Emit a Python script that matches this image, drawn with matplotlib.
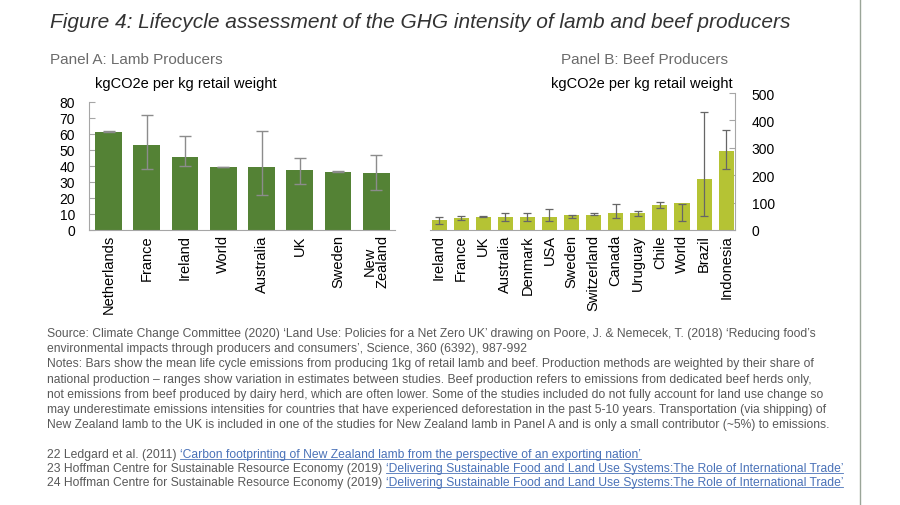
import matplotlib
matplotlib.use("Agg")
import matplotlib.pyplot as plt
from matplotlib.lines import Line2D
import numpy as np

# ---- data ----
lamb_countries = ["Netherlands", "France", "Ireland", "World", "Australia", "UK", "Sweden", "New\nZealand"]
lamb_mean = [61.5, 53, 45.5, 39.5, 39.5, 37.5, 36.5, 35.5]
lamb_low = [61, 38, 40, 39.5, 22, 29, 36, 25]
lamb_high = [62, 72, 58.5, 39.5, 62, 45, 37, 47]

beef_countries = ["Ireland", "France", "UK", "Australia", "Denmark", "USA", "Sweden", "Switzerland",
                  "Canada", "Uruguay", "Chile", "World", "Brazil", "Indonesia"]
beef_mean = [37, 44, 49, 49, 49, 49, 55, 56, 62, 62, 91, 98, 187, 290]
beef_low = [22, 37, 47, 32, 32, 32, 43, 56, 43, 52, 79, 32, 52, 223]
beef_high = [49, 52, 51, 61, 61, 77, 56, 61, 94, 70, 101, 96, 430, 366]

lamb_ticks = [0, 10, 20, 30, 40, 50, 60, 70, 80]
beef_ticks = [0, 100, 200, 300, 400, 500]

title = "Figure 4: Lifecycle assessment of the GHG intensity of lamb and beef producers"
panel_a = "Panel A: Lamb Producers"
panel_b = "Panel B: Beef Producers"
unit = "kgCO2e per kg retail weight"
notes = [
    "Source: Climate Change Committee (2020) \u2018Land Use: Policies for a Net Zero UK\u2019 drawing on Poore, J. & Nemecek, T. (2018) \u2018Reducing food\u2019s",
    "environmental impacts through producers and consumers\u2019, Science, 360 (6392), 987-992",
    "Notes: Bars show the mean life cycle emissions from producing 1kg of retail lamb and beef. Production methods are weighted by their share of",
    "national production \u2013 ranges show variation in estimates between studies. Beef production refers to emissions from dedicated beef herds only,",
    "not emissions from beef produced by dairy herd, which are often lower. Some of the studies included do not fully account for land use change so",
    "may underestimate emissions intensities for countries that have experienced deforestation in the past 5-10 years. Transportation (via shipping) of",
    "New Zealand lamb to the UK is included in one of the studies for New Zealand lamb in Panel A and is only a small contributor (~5%) to emissions.",
]
refs = [
    ("22 Ledgard et al. (2011) ", "\u2018Carbon footprinting of New Zealand lamb from the perspective of an exporting nation\u2019"),
    ("23 Hoffman Centre for Sustainable Resource Economy (2019) ", "\u2018Delivering Sustainable Food and Land Use Systems:The Role of International Trade\u2019"),
    ("24 Hoffman Centre for Sustainable Resource Economy (2019) ", "\u2018Delivering Sustainable Food and Land Use Systems:The Role of International Trade\u2019"),
]

W, H = 900, 506
fig = plt.figure(figsize=(9, 5.06), dpi=100)
plt.rcParams['font.family'] = ['Liberation Sans', 'DejaVu Sans']

def fx(x): return x / W
def fy(y): return 1 - y / H

lamb_col = "#548235"
beef_col = "#b5c334"
spine_col = "#a6a6a6"

def range_bars(ax, x, low, high, color, cap, lw):
    low = np.array(low, float)
    high = np.array(high, float)
    mid = (low + high) / 2
    half = (high - low) / 2
    ax.errorbar(x, mid, yerr=half, fmt='none', ecolor=color, elinewidth=lw,
                capsize=cap, capthick=lw, zorder=3)

# Panel A
axA = fig.add_axes([fx(89), fy(231), fx(395) - fx(89), fy(103) - fy(231)])
xa = np.arange(len(lamb_countries))
axA.bar(xa, lamb_mean, width=0.7, color=lamb_col, zorder=2)
range_bars(axA, xa, lamb_low, lamb_high, "#8c8c8c", 4.3, 1)
axA.set_ylim(0, 80)
axA.set_xlim(-0.51, len(lamb_countries) - 0.51)
axA.set_yticks(lamb_ticks)
axA.set_xticks(xa)
axA.set_xticklabels(lamb_countries, rotation=90, fontsize=10.5, linespacing=0.95)
axA.tick_params(axis='y', direction='in', length=4, color=spine_col, labelsize=10, pad=10)
axA.tick_params(axis='x', length=0, pad=3)
for s in ["top", "right"]:
    axA.spines[s].set_visible(False)
for s in ["left", "bottom"]:
    axA.spines[s].set_color(spine_col)

# Panel B
axB = fig.add_axes([fx(430), fy(231), fx(735) - fx(430), fy(94) - fy(231)])
xb = np.arange(len(beef_countries))
axB.bar(xb, beef_mean, width=0.68, color=beef_col, zorder=2)
range_bars(axB, xb, beef_low, beef_high, "#666666", 3, 0.9)
axB.set_ylim(0, 500)
axB.set_xlim(-0.41, len(beef_countries) - 0.6)
axB.yaxis.tick_right()
axB.set_yticks(beef_ticks)
axB.set_xticks(xb)
axB.set_xticklabels(beef_countries, rotation=90, fontsize=10.5)
axB.tick_params(axis='y', direction='in', length=4, color=spine_col, labelsize=10, pad=12)
axB.tick_params(axis='x', length=0, pad=3)
for s in ["top", "left"]:
    axB.spines[s].set_visible(False)
for s in ["right", "bottom"]:
    axB.spines[s].set_color(spine_col)

# Titles
fig.text(fx(50), fy(22), title, fontsize=15, style='italic', color="#333333", va='center', ha='left')
fig.text(fx(50), fy(60), panel_a, fontsize=11, color="#6b6b6b", va='center', ha='left')
fig.text(fx(728), fy(60), panel_b, fontsize=11, color="#6b6b6b", va='center', ha='right')
fig.text(fx(95), fy(84), unit, fontsize=10.5, color="black", va='center', ha='left')
fig.text(fx(733), fy(84), unit, fontsize=10.5, color="black", va='center', ha='right')

# Notes
fs_note = 8.7
note_font = dict(fontsize=fs_note, color="#595959")
y0 = 334
for i, line in enumerate(notes):
    fig.text(fx(47), fy(y0 + i * 15.2), line, va='center', ha='left', **note_font)

fig.canvas.draw()
renderer = fig.canvas.get_renderer()
ref_y = [455, 469, 483]
link_col = "#4a72b8"
for (plain, link), yy in zip(refs, ref_y):
    t1 = fig.text(fx(47), fy(yy), plain, va='center', ha='left', **note_font)
    bb = t1.get_window_extent(renderer)
    x1 = bb.x1 / W
    t2 = fig.text(x1, fy(yy), link, va='center', ha='left', fontsize=fs_note, color=link_col)
    bb2 = t2.get_window_extent(renderer)
    uy = (bb2.y0 + 1.5) / H
    fig.add_artist(Line2D([bb2.x0 / W, bb2.x1 / W], [uy, uy], color=link_col, lw=0.6,
                          transform=fig.transFigure))

# right border line
fig.add_artist(Line2D([fx(860), fx(860)], [0, 1], color="#9aa598", lw=1.0, transform=fig.transFigure))

fig.savefig("out.png", dpi=100)
